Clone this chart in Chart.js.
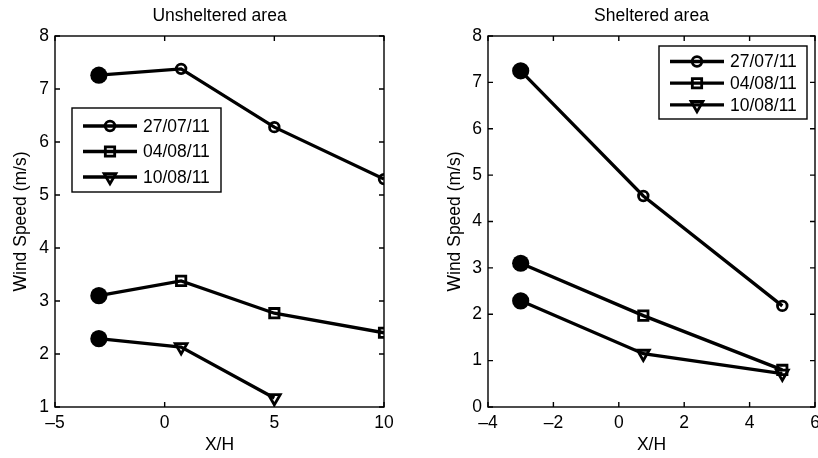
<!DOCTYPE html>
<html>
<head>
<meta charset="utf-8">
<script src="https://cdn.jsdelivr.net/npm/chart.js@4/dist/chart.umd.min.js"></script>
<style>
  html, body { margin: 0; padding: 0; background: #fff; overflow: hidden; }
  body { width: 818px; height: 458px; position: relative; }
  canvas { position: absolute; top: 0; }
  #unsheltered { left: 0; }
  #sheltered { left: 409px; }
</style>
</head>
<body>
<canvas id="unsheltered" width="409" height="458"></canvas>
<canvas id="sheltered" width="420" height="458"></canvas>
<script>
"use strict";

// measurement dates
const seriesLabels = ["27/07/11", "04/08/11", "10/08/11"];

// unsheltered area, wind speed (m/s) against X/H
const unshelteredX = [-3, 0.75, 5, 10];
const unsheltered2707 = [7.26, 7.38, 6.28, 5.30];
const unsheltered0408 = [3.10, 3.38, 2.77, 2.40];
const unsheltered1008 = [2.29, 2.13, 1.17];

// sheltered area
const shelteredX = [-3, 0.75, 5];
const sheltered2707 = [7.25, 4.55, 2.18];
const sheltered0408 = [3.10, 1.97, 0.80];
const sheltered1008 = [2.29, 1.15, 0.72];

// axis ranges / tick steps
const unshelteredXRange = [-5, 10, 5];
const unshelteredYRange = [1, 8, 1];
const shelteredXRange = [-4, 6, 2];
const shelteredYRange = [0, 8, 1];

const FONT = { family: "'Liberation Sans', Arial, Helvetica, sans-serif", size: 17.5 };

// marker for each date: open circle, open square, down triangle
const markers = [
    { style: "circle", radius: 4.8, rotation: 0 },
    { style: "rect", radius: 6.6, rotation: 0 },
    { style: "triangle", radius: 6.8, rotation: 180 }
];

function toPoints(xs, ys) {
    return ys.map((v, i) => ({ x: xs[i], y: v }));
}

function makeDataset(label, xs, ys, m) {
    // first point of every run is the big filled reference dot
    return {
        label: label,
        data: toPoints(xs, ys),
        borderColor: "#000",
        borderWidth: 3.3,
        tension: 0,
        pointStyle: ys.map((_, i) => i === 0 ? "circle" : m.style),
        pointRadius: ys.map((_, i) => i === 0 ? 8.6 : m.radius),
        pointRotation: ys.map((_, i) => i === 0 ? 0 : m.rotation),
        pointBackgroundColor: ys.map((_, i) => i === 0 ? "#000" : "rgba(0,0,0,0)"),
        pointBorderColor: "#000",
        pointBorderWidth: ys.map((_, i) => i === 0 ? 0 : 2.8)
    };
}

function minusSign(v) {
    return String(v).replace("-", "\u2013");
}

// box around the plot with inward ticks on all four sides
const frame = {
    id: "frame",
    beforeDatasetsDraw(chart) {
        const { ctx, chartArea: a, scales } = chart;
        const len = 5;
        ctx.save();
        ctx.strokeStyle = "#000";
        ctx.lineWidth = 1.4;
        ctx.beginPath();
        scales.x.ticks.forEach(t => {
            const px = scales.x.getPixelForValue(t.value);
            ctx.moveTo(px, a.bottom); ctx.lineTo(px, a.bottom - len);
            ctx.moveTo(px, a.top); ctx.lineTo(px, a.top + len);
        });
        scales.y.ticks.forEach(t => {
            const py = scales.y.getPixelForValue(t.value);
            ctx.moveTo(a.left, py); ctx.lineTo(a.left + len, py);
            ctx.moveTo(a.right, py); ctx.lineTo(a.right - len, py);
        });
        ctx.stroke();
        ctx.strokeRect(a.left, a.top, a.right - a.left, a.bottom - a.top);
        ctx.restore();
    }
};

// legend box: line with the marker drawn through it, then the date
const boxLegend = {
    id: "boxLegend",
    afterDatasetsDraw(chart, args, opts) {
        const ctx = chart.ctx;
        ctx.save();
        ctx.fillStyle = "#fff";
        ctx.fillRect(opts.x, opts.y, opts.w, opts.h);
        ctx.strokeStyle = "#000";
        ctx.lineWidth = 1.4;
        ctx.strokeRect(opts.x, opts.y, opts.w, opts.h);
        chart.data.datasets.forEach((ds, i) => {
            const cy = opts.y + opts.first + i * opts.step;
            ctx.strokeStyle = "#000";
            ctx.lineWidth = 3.3;
            ctx.beginPath();
            ctx.moveTo(opts.x + 11, cy);
            ctx.lineTo(opts.x + 65, cy);
            ctx.stroke();
            ctx.lineWidth = 2.8;
            ctx.fillStyle = "rgba(0,0,0,0)";
            Chart.helpers.drawPoint(ctx, {
                pointStyle: ds.pointStyle[1],
                radius: ds.pointRadius[1],
                rotation: ds.pointRotation[1],
                borderWidth: 2.8
            }, opts.x + 38, cy);
            ctx.fillStyle = "#000";
            ctx.font = FONT.size + "px " + FONT.family;
            ctx.textAlign = "left";
            ctx.textBaseline = "middle";
            ctx.fillText(ds.label, opts.x + 71, cy + 1);
        });
        ctx.restore();
    }
};

function makePanel(canvasId, title, xs, series, xr, yr, pad, yWidth, legend) {
    const ctx = document.getElementById(canvasId).getContext("2d");
    return new Chart(ctx, {
        type: "line",
        data: {
            datasets: series.map((ys, i) => makeDataset(seriesLabels[i], xs, ys, markers[i]))
        },
        options: {
            responsive: false,
            animation: false,
            events: [],
            layout: { padding: pad },
            scales: {
                x: {
                    type: "linear",
                    min: xr[0], max: xr[1],
                    grid: { display: false, drawTicks: false },
                    border: { display: false },
                    ticks: { stepSize: xr[2], padding: 6, color: "#000", font: FONT, callback: minusSign, maxRotation: 0 },
                    title: { display: true, text: "X/H", color: "#000", font: FONT, padding: { top: 0, bottom: 2 } },
                    afterFit(scale) { scale.height = 51; }
                },
                y: {
                    min: yr[0], max: yr[1],
                    grid: { display: false, drawTicks: false },
                    border: { display: false },
                    ticks: { stepSize: yr[2], padding: 6, color: "#000", font: FONT },
                    title: { display: true, text: "Wind Speed (m/s)", color: "#000", font: FONT, padding: { top: 11, bottom: 0 } },
                    afterFit(scale) { scale.width = yWidth; }
                }
            },
            plugins: {
                legend: { display: false },
                tooltip: { enabled: false },
                title: {
                    display: true,
                    text: title,
                    color: "#000",
                    font: { family: FONT.family, size: FONT.size, weight: "normal" },
                    padding: { top: 5.5, bottom: 9.5 },
                    fullSize: false
                },
                boxLegend: legend
            }
        },
        plugins: [frame, boxLegend]
    });
}

makePanel("unsheltered", "Unsheltered area", unshelteredX,
    [unsheltered2707, unsheltered0408, unsheltered1008],
    unshelteredXRange, unshelteredYRange,
    { left: 0, right: 25, top: 0, bottom: 0 }, 55,
    { x: 72, y: 108, w: 149, h: 84, first: 18, step: 25.5 });

makePanel("sheltered", "Sheltered area", shelteredX,
    [sheltered2707, sheltered0408, sheltered1008],
    shelteredXRange, shelteredYRange,
    { left: 25, right: 14, top: 0, bottom: 0 }, 54,
    { x: 250, y: 46, w: 148, h: 73, first: 15.5, step: 21.7 });
</script>
</body>
</html>
